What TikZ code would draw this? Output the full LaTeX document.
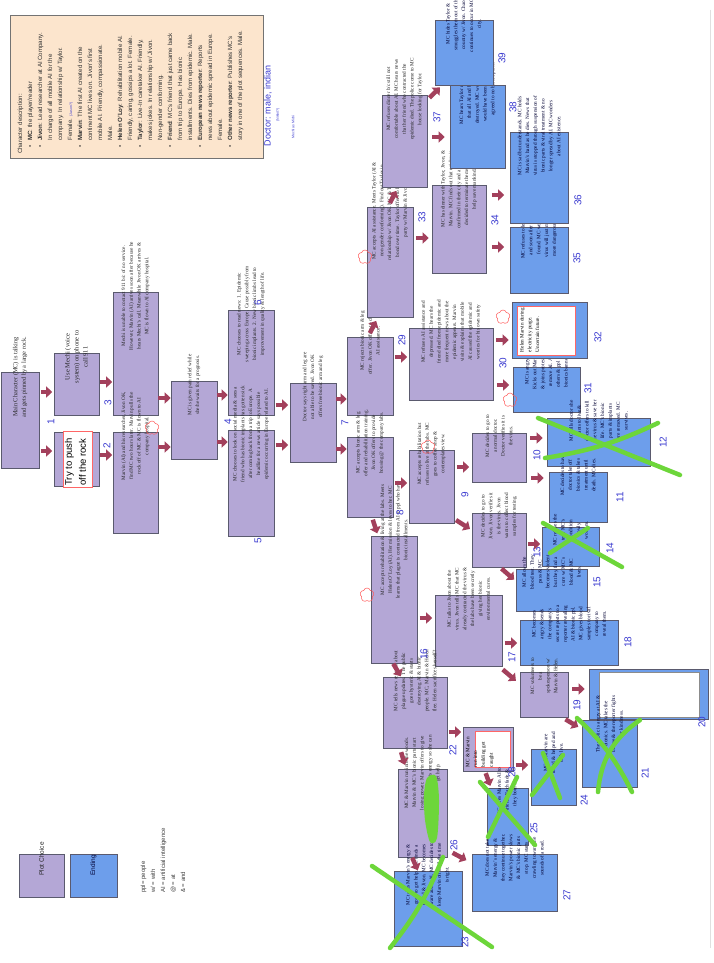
\documentclass[tikz,border=0pt]{standalone}
\usepackage{fontspec}
\setmainfont{Liberation Serif}
\setsansfont{Liberation Sans}
\usepackage{graphicx}
\usepackage{xcolor}
\usepackage{tikz}
\usetikzlibrary{arrows.meta, fit, calc, shapes.symbols}

\definecolor{choicepurple}{HTML}{B4A7D6}
\definecolor{endblue}{HTML}{6D9EEB}
\definecolor{boxedge}{HTML}{5A5A6E}
\definecolor{legendtan}{HTML}{FCE5CD}
\definecolor{arrowred}{HTML}{A3405C}
\definecolor{numblue}{HTML}{3A3AD0}
\definecolor{crossgreen}{HTML}{6DD63A}

\newcommand{\vtext}[2]{\rotatebox{90}{\parbox{#1pt}{\centering #2}}}
\newcommand{\vleft}[2]{\rotatebox{90}{\parbox{#1pt}{\raggedright #2}}}

\begin{document}
\begin{tikzpicture}[
    x=1pt, y=-1pt,
    choice/.style={draw=boxedge, fill=choicepurple, inner sep=0pt, line width=0.6pt, font=\fontsize{5.2}{7.8}\selectfont, text=black!85},
    ending/.style={choice, fill=endblue, text=black!80!blue},
    inset/.style={draw=red!60, fill=white, inner sep=0pt, line width=0.5pt},
    legend/.style={draw=black!55, fill=legendtan, inner sep=0pt, line width=0.6pt},
    num/.style={font=\sffamily\fontsize{10}{10}\selectfont, text=numblue, rotate=90, inner sep=0pt},
    blk/.style={draw=arrowred, line width=4.5pt, -{Triangle[width=11pt,length=6pt]}, shorten <=1.5pt, shorten >=1.5pt},
    pad/.style={shorten <=#1, shorten >=#1},
    xmark/.style={draw=crossgreen, line width=4.5pt, line cap=round},
    puff/.style={cloud, cloud puffs=5, draw=red!65, minimum width=14pt, minimum height=14pt, inner sep=0pt, line width=0.5pt}
]
\useasboundingbox (0,0) rectangle (714,963);
\fill[white] (0,0) rectangle (714,963);
\draw[black!12, line width=0.8pt] (710,10) -- (710,948);

% Character sheet and key
\node[legend, fit={(10,15) (263,158)}] (cast) {};
\node[anchor=south west, inner sep=0pt, font=\sffamily\fontsize{6.1}{10}\selectfont, text=black!80] (casttext) at (15,154) {\rotatebox{90}{%
\begin{tabular}{@{\hspace{6pt}}l@{\hspace{5pt}}l@{}}
\multicolumn{2}{@{}l}{Character description:}\\
\textbullet & \textbf{MC}: the player/reader\\
\textbullet & \textbf{Jivon}: Lead researcher at AI Company.\\
 & In charge of all mobile AI for the\\
 & company. In relationship w/ Taylor.\\
 & Female. {\color{numblue}\fontsize{3.5}{4}\selectfont(Jason?)}\\
\textbullet & \textbf{Marvin}: The first AI created on the\\
 & continent MC lives on. Jivon's first\\
 & mobile AI. Friendly, compassionate.\\
 & Male.\\
\textbullet & \textbf{Helen O'Loy}: Rehabilitation mobile AI.\\
 & Friendly, caring, gossips a lot. Female.\\
\textbullet & \textbf{Taylor}: Live-In caretaker AI. Friendly,\\
 & makes jokes. In relationship w/ Jivon.\\
 & Non-gender conforming.\\
\textbullet & \textbf{Friend}: MC's friend that just came back\\
 & from trip to Europe. Has bionic\\
 & installments. Dies from epidemic. Male.\\
\textbullet & \textbf{European news reporter}: Reports\\
 & news about epidemic spread in Europe.\\
 & Female.\\
\textbullet & \textbf{Other news reporter}: Publishes MC's\\
 & story in one of the plot sequences. Male.
\end{tabular}}};
\node[num, font=\sffamily\fontsize{9}{9}\selectfont] (doctorname) at (268,106) {Doctor: male, indian};
\node[num, font=\sffamily\fontsize{3.5}{4}\selectfont] (doctornote) at (278,115) {(Nikhil?)};
\node[num, font=\sffamily\fontsize{3.5}{4}\selectfont] (mechinote) at (293,127) {Mechi as Michi};

\node[choice, fit={(19,854) (64,897)}, font=\sffamily\fontsize{6.5}{7}\selectfont] (keychoice) {\rotatebox{90}{Plot Choice}};
\node[ending, fit={(70,854) (117,897)}, font=\sffamily\fontsize{6.5}{7}\selectfont] (keyending) {\rotatebox{90}{Ending}};
\node[anchor=south west, inner sep=0pt, font=\sffamily\fontsize{6}{10}\selectfont, text=black!75] (abbrev) at (138,893) {\rotatebox{90}{%
\begin{tabular}{@{}l@{}}
ppl= people\\
w/ = with\\
AI = artificial intelligence\\
@ = at\\
\& = and
\end{tabular}}};

% Opening and first choices
\node[choice, fit={(1,372) (39,468)}, font=\fontsize{6.3}{8.5}\selectfont] (start) {\vtext{86}{Main Character (MC) is talking and gets pinned by a large rock.}};
\node[choice, fit={(54,353) (99,415)}, font=\fontsize{6.5}{9}\selectfont] (use911) {\vtext{54}{Use Mechi (voice system) on phone to call 911}};
\node[choice, fit={(54,432) (99,486)}] (push) {};
\node[inset, fit={(63,431) (92,487)}] (pushinset) {};
\node[anchor=south west, inner sep=0pt, font=\sffamily\fontsize{9.5}{14}\selectfont] (pushtext) at ($(pushinset.south west)+(2,-1.5)$) {\vleft{60}{Try to push\\off the rock}};
\node[choice, fit={(113,292) (158,415)}] (nosignal) {\vtext{115}{Mechi is unable to contact 911 b/c of no service. However, Marvin (AI) arrives soon after because he hears Mechi's call. Meanwhile Jivon OK arrives \& MC is flown to AI company hospital.}};
\node[choice, fit={(113,432) (158,533)}] (found) {\vtext{93}{Marvin (AI) and his researcher, Jivon OK, find MC two hours later. Marvin pulls the rock off of MC \& MC is flown to AI company hospital.}};
\node[choice, fit={(171,381) (217,459)}] (relief) {\vtext{70}{MC is given pain relief while she/he waits for a prognosis.}};
\node[choice, fit={(228,310) (274,415)}] (news) {\vtext{97}{MC chooses to read news: 1. Epidemic sweeping across Europe. Cause possibly from bionic implants. 2. New bionic limbs lead to improvement in quality \& length of life.}};
\node[choice, fit={(228,430) (274,536)}] (social) {\vtext{98}{MC chooses to look on social media \& sees a friend who has bionic implants has gotten sick after coming back from a trip to Europe. A headline for a news article says possible epidemic occurring in Europe related to AI.}};
\node[choice, fit={(290,383) (336,462)}] (doctor) {\vtext{71}{Doctor says right arm and leg are not able to be saved. Jivon OK offers free bionic arm and leg}};
\node[choice, fit={(347,337) (393,415)}] (reject) {\vtext{70}{MC rejects bionic arm \& leg offer. Jivon OK offers to choose AI assistance.}};
\node[choice, fit={(347,437) (393,517)}] (accept) {\vtext{68}{MC accepts bionic arm \& leg offer and rehabilitation training. Jivon OK offers to provide housing @ the company labs.}};

% AI assistance branch
\node[choice, fit={(409,328) (493,400)}] (alone) {\vtext{64}{MC refuses AI assistance and depressed. MC hears the friend died from epidemic and more frequent news about the epidemic appears. Marvin visits \& explains that mobile AI caused the epidemic and worries for his own safety}};
\node[ending, fit={(513,367) (580,412)}] (angry) {\vtext{37}{MC is angry. Kicks out Marvin \& joins protest to remove AI. All others \& ppl w/ bionics banned.}};
\node[ending, fit={(512,302) (587,358)}] (purge) {};
\node[inset, fit={(517,306) (575,355)}] (purgeinset) {};
\node[anchor=south west, inner sep=0pt, font=\fontsize{5.2}{7.8}\selectfont] (purgetext) at ($(purgeinset.south west)+(3,-3)$) {\vleft{44}{Helen Marvin during\\electricity purge.\\Uncertain future.}};
\node[choice, fit={(367,207) (413,317)}] (taylor) {\vtext{102}{MC accepts AI assistance. Meets Taylor (AI \& non-gender conforming). Find out Taylor in relationship w/ Jivon OK. MC \& Taylor slowly bond over time. Taylor offers to have dinner party w/ Marvin \& Jivon.}};
\node[choice, fit={(432,185) (486,273)}] (dinner) {\vtext{80}{MC has dinner with Taylor, Jivon, \& Marvin. MC finds out that epidemic confirmed in their city and all AI have decided to terminate themselves to help save mankind.}};
\node[ending, fit={(510,227) (568,293)}] (cure) {\vtext{58}{MC refuses to let them die and soon after a cure is found. MC wonders if virus will just morph into more dangerous disease.}};
\node[ending, fit={(510,132) (568,223)}] (sad) {\vtext{83}{MC is sad but understands. MC holds Marvin's hand as he dies. News that virus is stopped through suspension of bionic parts \& viral treatment \& no longer spread by AI. MC wonders about AI existence.}};
\node[choice, fit={(382,95) (427,187)}] (refuse) {\vtext{84}{MC refuses dinner b/c still not comfortable about AI. MC hears news that her friend who contracted the epidemic died. The police come to MC house looking for Taylor.}};
\node[ending, fit={(450,85) (505,168)}] (destroyed) {\vtext{75}{MC hears Taylor may \& finds out that all AI and bionics being destroyed. MC wonders what life would have been like if she had agreed to no bionic parts.}};
\node[ending, fit={(435,20) (493,85)}] (smuggle) {\vtext{57}{MC hides Taylor \& smuggles them out of the country w/ Jivon. Chaos continues to occur in MC's city.}};

% Rehabilitation branch
\node[choice, fit={(409,450) (454,523)}] (coffee) {\vtext{65}{MC accepts rehabilitation but refuses to live at the labs. MC goes to coffee shop \& contemplates view.}};
\node[choice, fit={(472,433) (526,482)}] (normaldoc) {\vtext{43}{MC decides to go to a normal doctor. Doctor verifies it is the virus.}};
\node[ending, fit={(547,418) (650,466)}] (survive) {\vtext{42}{MC tells doctor she wants to live \& doctor offers to kill the virus \& save her life. MC's bionic parts \& implants are removed. MC survives.}};
\node[ending, fit={(549,472) (607,522)}] (dies) {\vtext{44}{MC decides to have doctor take off bionics \& takes treatment until death. MC dies.}};
\node[choice, fit={(472,513) (526,567)}] (gojivon) {\vtext{48}{MC decides to go to Jivon. Jivon verifies it is the virus. Jivon wants to collect blood samples for testing.}};
\node[ending, fit={(542,527) (599,566)}] (notest) {\vtext{33}{MC refuses the test. MC's condition slowly worsens.}};
\node[ending, fit={(516,569) (587,611)}] (bloodtest) {\vtext{36}{MC allows the blood test. They pass \& MC becomes violent but they find a cure w/ MC's blood \& MC lives.}};

% Living at the labs
\node[choice, fit={(371,536) (417,663)}] (labs) {\vtext{119}{MC accepts rehabilitation \& living at the labs. Meets Helen O'Loy (AI). Her mission \& loves to her. MC learns that plague is contracted from AI to ppl who have bionic installments.}};
\node[choice, fit={(435,595) (502,666)}] (talkjivon) {\vtext{63}{MC talks to Jivon about the virus. Jivon tells MC that MC already contracted the virus \& the labs have been secretly giving her bionic environmental cures.}};
\node[ending, fit={(520,620) (618,665)}] (leak) {\vtext{37}{MC becomes angry \& sends the company's secret reports to a reporter revealing AI \& bionic ppl. MC gives blood samples to rival company to reveal them.}};
\node[choice, fit={(520,672) (568,717)}] (spokes) {\vtext{37}{MC volunteers to be a spokesperson w/ Marvin \& Helen.}};
\node[ending, fit={(589,669) (708,719)}] (blank) {};
\node[inset, draw=black!45, fit={(599,672) (699,717)}] (blankinset) {};
\node[ending, fit={(582,720) (637,787)}] (outrage) {\vtext{59}{The public is angry at AI \& bionics. MC takes the blame \& the reporter fights for kindness.}};
\node[choice, fit={(383,677) (447,748)}] (reporter) {\vtext{63}{MC tells news reporter about plague updates. The public goes hysteric \& starts destroying AI \& bionic people. MC, Marvin \& Helen flee. Helen sacrifices herself?}};
\node[choice, fit={(463,727) (513,771)}] (caught) {};
\node[inset, fit={(475,731) (510,767)}] (caughtinset) {};
\node[anchor=south west, inner sep=0pt, font=\fontsize{5.2}{7.8}\selectfont] (caughttext) at ($(caught.south west)+(3,-4)$) {\vleft{36}{MC \& Marvin\\run into\\building get\\caught}};
\node[ending, fit={(531,749) (576,805)}] (helped) {\vtext{48}{MC \& Marvin are found \& helped and both live.}};
\node[ending, fit={(487,788) (528,845)}] (fade) {\vtext{49}{MC gives Marvin AI to a friend. Each fade \& they both die.}};
\node[choice, fit={(398,769) (447,857)}] (woods) {\vtext{80}{MC \& Marvin run into the woods. Marvin \& MC's bionic parts start losing power. Marvin offers to give MC the rest of his energy so she can get help.}};
\node[ending, fit={(394,871) (462,946)}] (energy) {\vtext{67}{MC takes Marvin's energy \& goes to get help. MC finds a friend \& Jivon. MC becomes aware about AI. MC decides to keep Marvin off until the time is right.}};
\node[ending, fit={(472,854) (557,911)}] (crawl) {\vtext{49}{MC does not take Marvin's energy \& they continue together. Marvin's power slows \& MC's bionic parts stop. MC starts crawling toward the sounds of a road.}};

% Revision marks
\foreach \i/\px/\py in {1/152/428, 2/428/447, 3/365/257, 4/367/595, 5/503/317, 6/510/400}
  \node[puff] (puff\i) at (\px,\py) {};
\fill[crossgreen] plot[smooth cycle] coordinates {(427,778) (436,776) (439,800) (437,838) (430,842) (425,820) (424,795)};

% Numbers
\foreach \t/\px/\py in {1/51/422, 2/107/446, 3/108/403, 4/228/422, 5/258/541, 6/258/303, 7/345/423, 8/400/513, 9/465/495,
    10/537/455, 11/620/497, 12/663/442, 13/537/552, 14/610/548, 15/597/582, 16/424/654, 17/512/657, 18/628/642,
    19/577/705, 20/702/722, 21/645/773, 22/453/750, 23/465/942, 24/584/800, 25/534/828, 26/454/845, 27/567/895,
    28/512/772, 29/402/340, 30/503/363, 31/588/388, 32/598/337, 33/422/217, 34/495/220, 35/577/258, 36/578/200,
    37/437/117, 38/513/107, 39/502/58}
  \node[num] (n\t) at (\px,\py) {\t};

% Connections
\draw[blk] (start.east |- 0,392) -- (use911.west |- 0,392);
\draw[blk] (start.east |- 0,451) -- (push.west |- 0,451);
\draw[blk, pad=0.5pt] (use911.east |- 0,382) -- (nosignal.west |- 0,382);
\draw[blk, pad=0.5pt] (push.east |- 0,455) -- (found.west |- 0,455);
\draw[blk, pad=0pt] (nosignal.east |- 0,398) -- (relief.west |- 0,398);
\draw[blk, pad=0pt] (found.east |- 0,447) -- (relief.west |- 0,447);
\draw[blk, pad=0pt] (relief.east |- 0,395) -- (news.west |- 0,395);
\draw[blk, pad=0pt] (relief.east |- 0,442) -- (social.west |- 0,442);
\draw[blk] (news.east |- 0,405) -- (doctor.west |- 0,405);
\draw[blk] (social.east |- 0,445) -- (doctor.west |- 0,445);
\draw[blk, pad=0pt] (doctor.east |- 0,399) -- (reject.west |- 0,399);
\draw[blk, pad=0pt] (doctor.east |- 0,449) -- (accept.west |- 0,449);
\draw[blk] (accept.east |- 0,483) -- (coffee.west |- 0,483);
\draw[blk] (reject.east |- 0,357) -- (alone.west |- 0,357);
\draw[blk, pad=3.5pt] (alone.east |- 0,385) -- (angry.west |- 0,385);
\draw[blk, pad=3pt] (alone.east |- 0,340) -- (purge.west |- 0,340);
\draw[blk, pad=4pt] (reject.north -| 368,0) -- (taylor.south -| 378,0);
\draw[blk, pad=3pt] (taylor.east |- 0,238) -- (dinner.west |- 0,238);
\draw[blk, pad=4pt] (taylor.north -| 388,0) -- (refuse.south -| 398,0);
\draw[blk, pad=5pt] (refuse.east |- 0,137) -- (destroyed.west |- 0,137);
\draw[blk, pad=3pt] (refuse.east |- 0,100) -- (smuggle.south -| 442,0);
\draw[blk, pad=5.5pt] (dinner.east |- 0,195) -- (sad.west |- 0,195);
\draw[blk, pad=5.5pt] (dinner.east |- 0,247) -- (cure.west |- 0,247);
\draw[blk, pad=2.5pt] (coffee.east |- 0,467) -- (normaldoc.west |- 0,467);
\draw[blk, pad=2pt] (coffee.east |- 0,519) -- (gojivon.west |- 0,530);
\draw[blk, pad=4pt] (normaldoc.east |- 0,438) -- (survive.west |- 0,438);
\draw[blk, pad=5pt] (normaldoc.east |- 0,478) -- (dies.west |- 0,478);
\draw[blk] (gojivon.east |- 0,544) -- (notest.west |- 0,544);
\draw[blk, pad=2pt] (gojivon.south -| 500,0) -- (bloodtest.west |- 0,581);
\draw[blk, pad=2.5pt] (accept.south -| 372,0) -- (labs.north -| 378,0);
\draw[blk, pad=2.5pt] (labs.east |- 0,618) -- (talkjivon.west |- 0,618);
\draw[blk, pad=0.5pt] (labs.south -| 393,0) -- (reporter.north -| 401,0);
\draw[blk, pad=2.5pt] (talkjivon.east |- 0,643) -- (leak.west |- 0,643);
\draw[blk, pad=5pt] (talkjivon.south -| 499,0) -- (spokes.west |- 0,684);
\draw[blk, pad=4pt] (spokes.east |- 0,689) -- (blank.west |- 0,689);
\draw[blk, pad=4pt] (spokes.south -| 562,0) -- (outrage.west |- 0,729);
\draw[blk, pad=4pt] (reporter.south -| 400,0) -- (woods.north -| 406,0);
\draw[blk] (reporter.east |- 0,732) -- (caught.west |- 0,732);
\draw[blk, pad=2pt] (caught.south -| 485,0) -- (fade.north -| 491,0);
\draw[blk, pad=2.5pt] (caught.east |- 0,765) -- (helped.west |- 0,765);
\draw[blk, pad=0.5pt] (woods.south -| 412,0) -- (energy.north -| 418,0);
\draw[blk, pad=6pt] (woods.east |- 0,850) -- (crawl.west |- 0,863);

% Crossed-out endings
\draw[xmark] (538,418) -- (680,475);
\draw[xmark] (658,423) to[bend left=8] (545,458);
\draw[xmark] (543,523) -- (622,567);
\draw[xmark] (588,528) -- (550,553);
\draw[xmark] (577,718) to[bend left=10] (632,792);
\draw[xmark] (640,720) to[bend right=25] (598,792);
\draw[xmark] (532,795) -- (563,755);
\draw[xmark] (543,753) -- (560,798);
\draw[xmark] (480,782) -- (535,845);
\draw[xmark] (517,777) -- (488,837);
\draw[xmark] (372,866) -- (492,947);
\draw[xmark] (443,857) to[bend left=8] (390,948);

\end{tikzpicture}
\end{document}
